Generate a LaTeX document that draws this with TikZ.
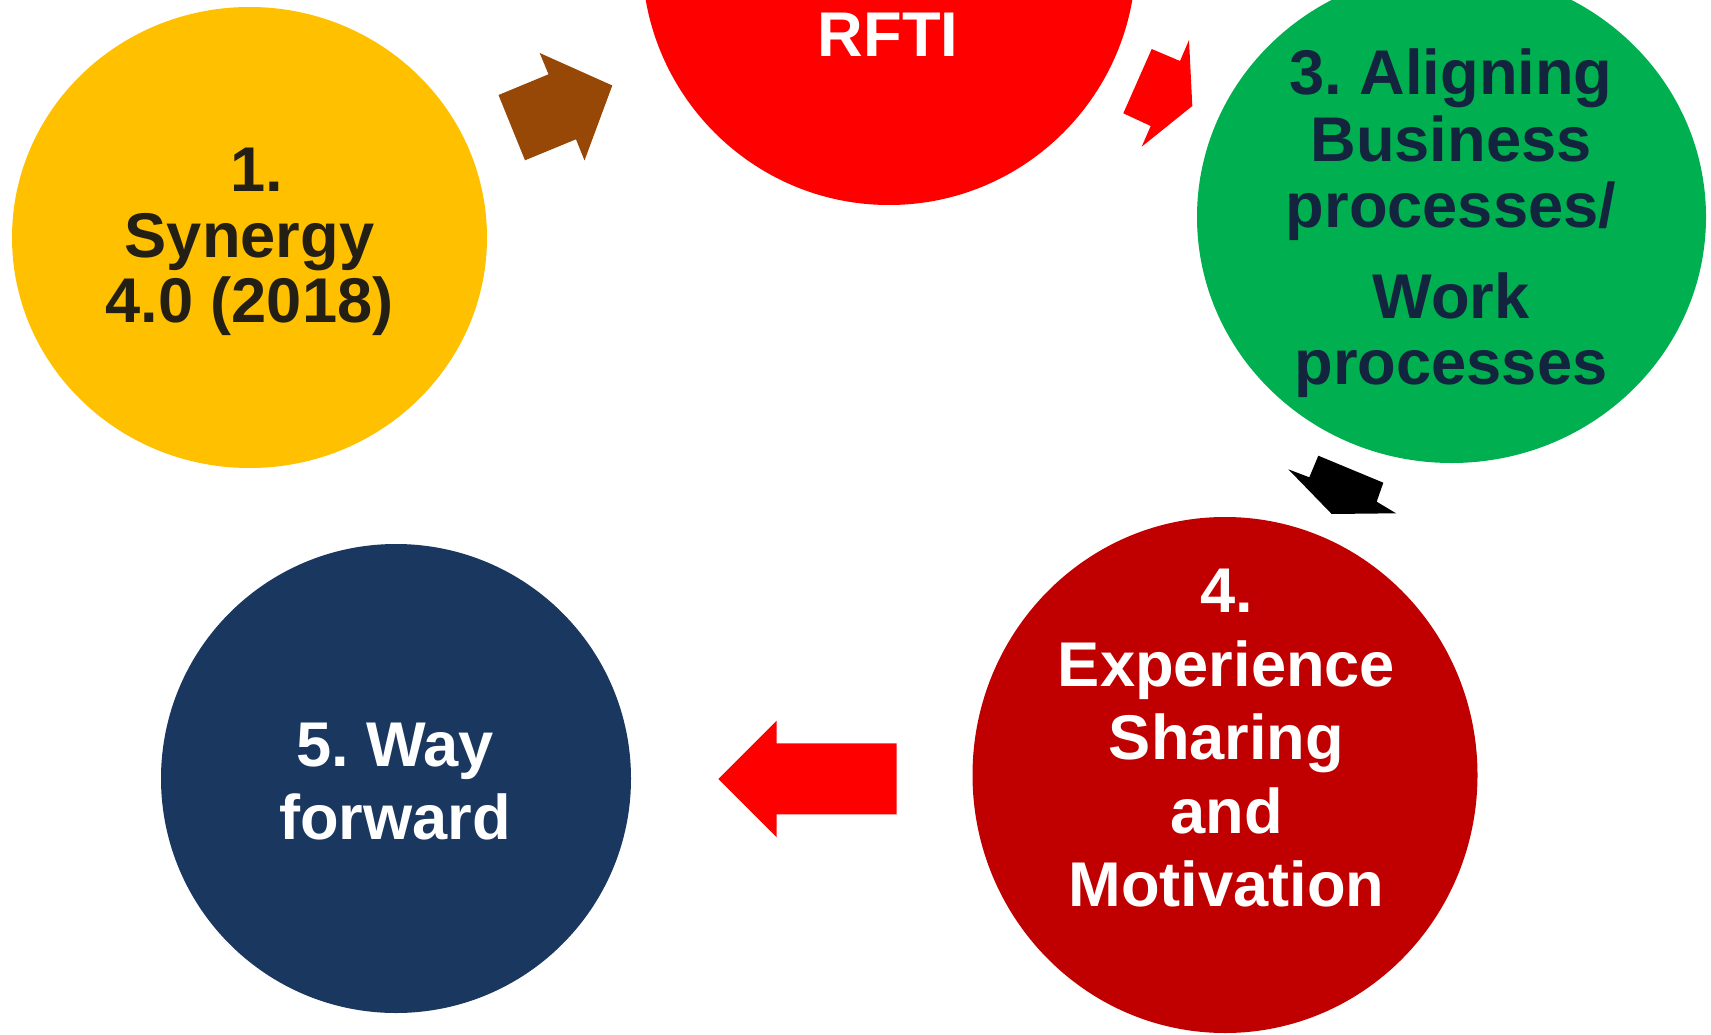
\documentclass[tikz,border=0pt]{standalone}
\usepackage{fontspec}
\setmainfont{Liberation Sans}
\usetikzlibrary{shapes.geometric}
\definecolor{cyellow}{HTML}{FFC000}
\definecolor{cred}{HTML}{FF0000}
\definecolor{cgreen}{HTML}{00B050}
\definecolor{cdarkred}{HTML}{C00000}
\definecolor{cnavy}{HTML}{1A375F}
\definecolor{cbrown}{HTML}{974706}
\definecolor{tdark}{HTML}{231F14}
\definecolor{tnavy}{HTML}{13243F}
\frenchspacing
\tikzset{
  bubble/.style={ellipse, inner sep=0pt, outer sep=0pt, draw=none},
  lbl/.style={inner sep=0pt, anchor=base, font=\bfseries\fontsize{63.2}{#1}\selectfont},
  blockarrow/.style={draw=none}
}
\begin{document}
\begin{tikzpicture}[x=1pt,y=-1pt]
\useasboundingbox (0,0) rectangle (1711,1035);
\fill[white] (0,0) rectangle (1711,1035);
\begin{scope}
\clip (0,0) rectangle (1711,1035);
% circles
\node[bubble, fill=cyellow, minimum width=475pt, minimum height=461pt] (c1) at (249.5,237.5) {};
\node[bubble, fill=cred, minimum width=494pt, minimum height=496pt] (c2) at (889,-43) {};
\node[bubble, fill=cgreen, minimum width=509pt, minimum height=492pt] (c3) at (1451.5,217) {};
\node[bubble, fill=cdarkred, minimum width=505pt, minimum height=516pt] (c4) at (1225,775) {};
\node[bubble, fill=cnavy, minimum width=470pt, minimum height=469pt] (c5) at (396,778.5) {};
% labels
\node[lbl=65.5, text=tdark] (t1) at (249.5,192) {\begin{tabular}[t]{@{}c@{}}\hspace*{15pt}1.\\Synergy\\4.0 (2018)\end{tabular}};
\node[lbl=65.5, text=white] (t2) at (888,57) {RFTI};
\node[lbl=66.2, text=tnavy] (t3) at (1451,95) {\begin{tabular}[t]{@{}c@{}}3. Aligning\\Business\\processes/\\[25.2pt]Work\\processes\end{tabular}};
\node[lbl=73.5, text=white] (t4) at (1226.5,612.7) {\begin{tabular}[t]{@{}c@{}}4.\\Experience\\Sharing\\and\\Motivation\end{tabular}};
\node[lbl=73, text=white] (t5) at (395,766) {\begin{tabular}[t]{@{}c@{}}5. Way\\forward\end{tabular}};
% block arrows
\fill[cbrown, blockarrow] (498.5,95) -- (548.5,74.3) -- (539.7,53) -- (612.3,85.5) -- (584.5,160.5) -- (576,139.3) -- (525,160.3) -- cycle;
\fill[cred, blockarrow] (1151.7,49) -- (1180,61) -- (1189,40) -- (1192.3,106) -- (1141.7,146.7) -- (1150.7,126) -- (1123.3,113.3) -- cycle;
\fill[black, blockarrow] (1318.3,455.7) -- (1383.3,482.7) -- (1376.7,501.7) -- (1396,513.3) -- (1331.7,514) -- (1288.3,469.3) -- (1309.3,477.3) -- cycle;
\fill[cred, blockarrow] (718.3,779) -- (776.7,720.7) -- (776.7,743.3) -- (896.7,743.3) -- (896.7,814.3) -- (776.7,814.3) -- (776.7,837.3) -- cycle;
\end{scope}
\end{tikzpicture}
\end{document}
